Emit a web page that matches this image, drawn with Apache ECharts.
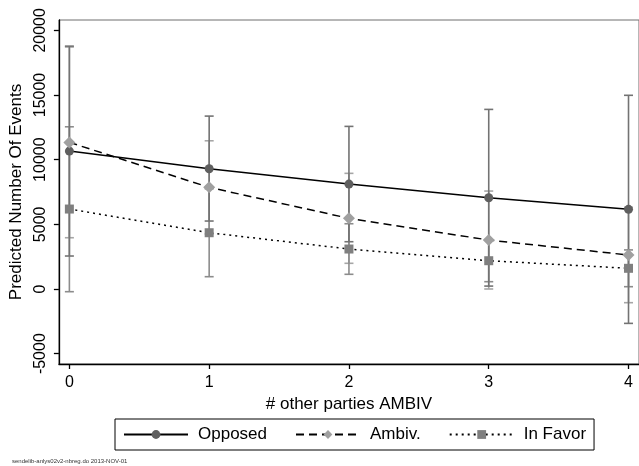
<!DOCTYPE html>
<html>
<head>
<meta charset="utf-8">
<script src="https://cdn.jsdelivr.net/npm/echarts@6/dist/echarts.min.js"></script>
<style>
  html, body { margin: 0; padding: 0; background: #fff; }
  #chart { width: 639px; height: 466px; }
</style>
</head>
<body>
<div id="chart"></div>
<script>
// x 轴取值 (# other parties AMBIV)
var xValues = [0, 1, 2, 3, 4];
var xTicks = [0, 1, 2, 3, 4];
var yTicks = [-5000, 0, 5000, 10000, 15000, 20000];

// Opposed
var opposed   = [10665, 9297, 8114, 7056, 6159];
var opposedLo = [2550, 5255, 3655, 225, -2659];
var opposedHi = [18779, 13369, 12573, 13887, 14977];

// Ambiv.
var ambiv   = [11337, 7859, 5464, 3787, 2627];
var ambivLo = [3964, 4257, 1986, 0, -1059];
var ambivHi = [18710, 11461, 8942, 7573, 6313];

// In Favor
var favor   = [6182, 4351, 3091, 2187, 1600];
var favorLo = [-209, 951, 1136, 564, 178];
var favorHi = [12543, 7751, 5046, 3810, 3022];

var FONT = '"Liberation Sans", Arial, Helvetica, sans-serif';

function pairs(ys) {
    return xValues.map(function (x, i) { return [x, ys[i]]; });
}
function ranges(lo, hi) {
    return xValues.map(function (x, i) { return [x, lo[i], hi[i]]; });
}

// 误差线 (rcap)
function capRenderer(color) {
    return function (params, api) {
        var x = api.value(0);
        var top = api.coord([x, api.value(2)]);
        var bot = api.coord([x, api.value(1)]);
        var w = 4.5;
        var st = { stroke: color, lineWidth: 1.6 };
        return {
            type: 'group',
            children: [
                { type: 'line', shape: { x1: top[0], y1: top[1], x2: bot[0], y2: bot[1] }, style: st },
                { type: 'line', shape: { x1: top[0] - w, y1: top[1], x2: top[0] + w, y2: top[1] }, style: st },
                { type: 'line', shape: { x1: bot[0] - w, y1: bot[1], x2: bot[0] + w, y2: bot[1] }, style: st }
            ]
        };
    };
}

var chart = echarts.init(document.getElementById('chart'));

var option = {
    animation: false,
    textStyle: { fontFamily: FONT },
    grid: {
        left: 58,
        right: -10,
        top: 20,
        bottom: 102,
        show: true,
        borderColor: '#6e6e6e',
        borderWidth: 1
    },
    xAxis: {
        type: 'value',
        min: -0.075,
        max: 4.075,
        name: '# other parties AMBIV',
        nameLocation: 'middle',
        nameGap: 27,
        nameTextStyle: { fontSize: 17, color: '#000', fontFamily: FONT },
        splitLine: { show: false },
        axisLine: { onZero: false, lineStyle: { color: '#000', width: 1.3 } },
        axisTick: { customValues: xTicks, length: 5, lineStyle: { color: '#000', width: 1.3 } },
        axisLabel: {
            customValues: xTicks,
            margin: 11,
            fontSize: 16,
            color: '#000',
            fontFamily: FONT,
            formatter: function (v) { return String(v); }
        }
    },
    yAxis: {
        type: 'value',
        min: -5800,
        max: 20800,
        name: 'Predicted Number Of Events',
        nameLocation: 'middle',
        nameGap: 24,
        nameTextStyle: { fontSize: 17, color: '#000', fontFamily: FONT },
        splitLine: { show: false },
        axisLine: { show: true, onZero: false, lineStyle: { color: '#000', width: 1.3 } },
        axisTick: { show: true, customValues: yTicks, length: 5, lineStyle: { color: '#000', width: 1.3 } },
        axisLabel: {
            customValues: yTicks,
            rotate: 90,
            margin: 10,
            fontSize: 16,
            color: '#000',
            fontFamily: FONT,
            formatter: function (v) { return String(v); }
        }
    },
    legend: {
        left: 115,
        top: 419,
        width: 476,
        height: 32,
        padding: [7, 8, 7, 8],
        borderColor: '#000',
        borderWidth: 1,
        itemWidth: 64,
        itemHeight: 11,
        itemGap: 28,
        textStyle: { fontSize: 17, color: '#000', fontFamily: FONT, padding: [0, 0, 0, 5] },
        data: ['Opposed', 'Ambiv.', 'In Favor']
    },
    graphic: [{
        type: 'text',
        left: 12,
        top: 458,
        style: {
            text: 'sendelib-anlys02v2-nbreg.do 2013-NOV-01',
            fontSize: 6,
            fill: '#333',
            fontFamily: FONT
        }
    }],
    series: [
        {
            name: 'Ambiv. CI', type: 'custom', renderItem: capRenderer('#a6a6a6'),
            data: ranges(ambivLo, ambivHi), encode: { x: 0, y: [1, 2] }, z: 1, clip: false
        },
        {
            name: 'In Favor CI', type: 'custom', renderItem: capRenderer('#8c8c8c'),
            data: ranges(favorLo, favorHi), encode: { x: 0, y: [1, 2] }, z: 1, clip: false
        },
        {
            name: 'Opposed CI', type: 'custom', renderItem: capRenderer('#737373'),
            data: ranges(opposedLo, opposedHi), encode: { x: 0, y: [1, 2] }, z: 1, clip: false
        },
        {
            name: 'In Favor', type: 'line', data: pairs(favor), z: 3,
            symbol: 'rect', symbolSize: 9,
            itemStyle: { color: '#7f7f7f' },
            lineStyle: { color: '#000', width: 1.5, type: [2, 4] }
        },
        {
            name: 'Opposed', type: 'line', data: pairs(opposed), z: 3,
            symbol: 'circle', symbolSize: 9,
            itemStyle: { color: '#5f5f5f' },
            lineStyle: { color: '#000', width: 1.5 }
        },
        {
            name: 'Ambiv.', type: 'line', data: pairs(ambiv), z: 4,
            symbol: 'diamond', symbolSize: 12,
            itemStyle: { color: '#a0a0a0' },
            lineStyle: { color: '#000', width: 1.5, type: [8, 5] }
        }
    ]
};

chart.setOption(option);
</script>
</body>
</html>
